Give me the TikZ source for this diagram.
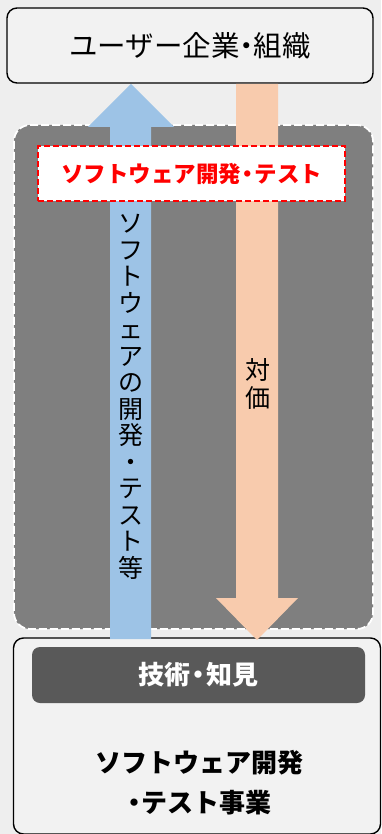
\documentclass[tikz,border=0pt]{standalone}
\usepackage{fontspec}
\newfontfamily\jp{Noto Sans CJK JP}
\definecolor{bgc}{HTML}{EEEEEE}
\definecolor{boxc}{HTML}{F2F2F2}
\definecolor{regc}{HTML}{7F7F7F}
\definecolor{barc}{HTML}{595959}
\definecolor{bluec}{HTML}{9DC3E6}
\definecolor{orangec}{HTML}{F8CBAD}
\definecolor{redc}{HTML}{FF0000}
\newcommand{\nd}[1]{\makebox[#1em]{・}}
\begin{document}
\begin{tikzpicture}[x=1pt,y=-1pt,
  whitebox/.style={draw=black,line width=1.4pt,fill=boxc,rounded corners=10pt,inner sep=0pt},
  region/.style={draw=white,line width=1.8pt,dash pattern=on 8pt off 3pt,fill=regc,rounded corners=16pt,inner sep=0pt},
  redbox/.style={draw=redc,line width=2pt,dash pattern=on 6pt off 3pt,fill=white,inner sep=0pt},
  techbar/.style={fill=barc,rounded corners=8pt,inner sep=0pt},
  vtext/.style={align=center,inner sep=0pt},
]
\fill[bgc] (0,0) rectangle (381,834);
\useasboundingbox (0,0) rectangle (381,834);

% bottom box
\node[whitebox,minimum width=367pt,minimum height=196pt] (biz) at (197,736) {};
% top box
\node[whitebox,minimum width=366pt,minimum height=75pt] (user) at (190,45.5)
  {\jp\fontsize{28.5}{32}\selectfont ユーザー企業\nd{0.5}組織};
% dashed gray region
\node[region,minimum width=359pt,minimum height=504pt] (dev) at (193.5,377) {};

% arrows
\coordinate (btip) at (131,84);
\coordinate (otip) at (257,640);
\fill[bluec] (110,639) -- (110,127) -- (88,127) -- (btip) -- (174,127) -- (151,127) -- (151,639) -- cycle;
\fill[orangec] (236,84) -- (236,598) -- (216,598) -- (otip) -- (298,598) -- (278,598) -- (278,84) -- cycle;

% red labelled box
\node[redbox,minimum width=307pt,minimum height=55pt] (rb) at (191.5,173.5)
  {\jp\bfseries\fontsize{22.5}{26}\selectfont\color{redc}ソフトウェア開発\nd{0.6}テスト};

% vertical texts
\node[vtext,font={\jp\fontsize{25}{26.5}\selectfont}] (vt1) at (131,397)
  {ソ\\フ\\ト\\ウ\\ェ\\ア\\の\\開\\発\\・\\テ\\ス\\ト\\等};
\node[vtext,font={\jp\fontsize{25}{28}\selectfont}] (vt2) at (258,384) {対\\価};

% tech bar and business text
\node[techbar,minimum width=333pt,minimum height=56pt,font={\jp\bfseries\fontsize{26}{28}\selectfont},text=white] (tech) at (198.5,675)
  {技術\nd{0.65}知見};
\node[align=center,inner sep=0pt,font={\jp\bfseries\fontsize{26}{40}\selectfont}] (biztext) at (199,783)
  {ソフトウェア開発\\\nd{0.6}テスト事業};
\end{tikzpicture}
\end{document}
